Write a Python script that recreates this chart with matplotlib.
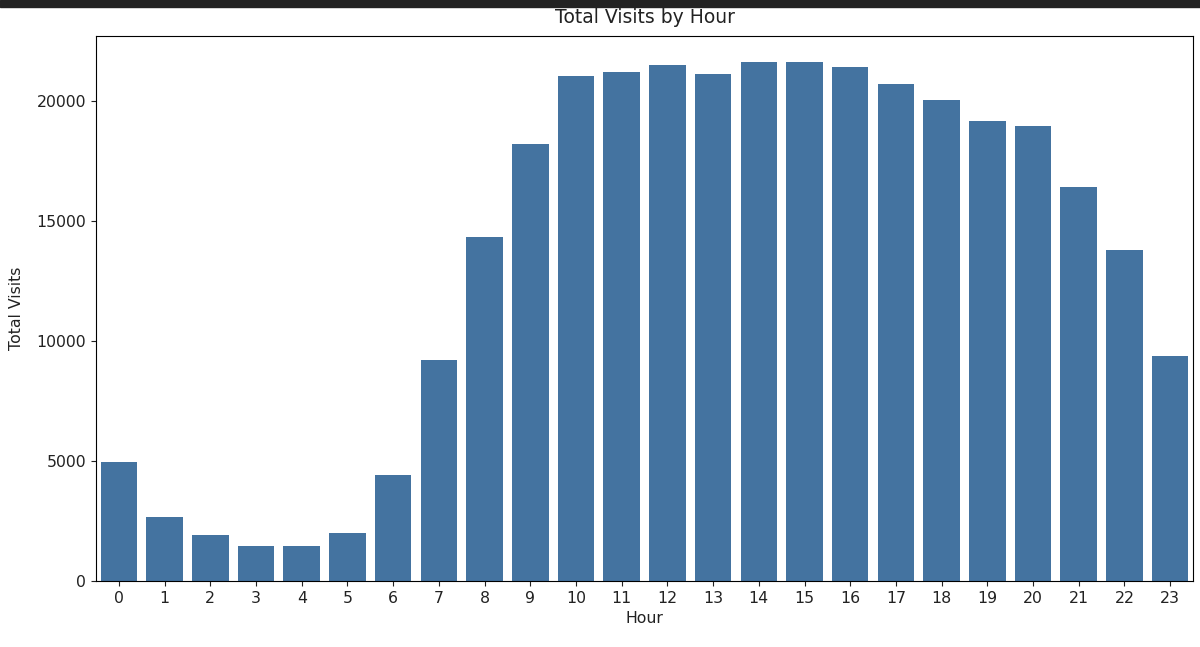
import matplotlib
matplotlib.use('Agg')
import matplotlib.pyplot as plt
import seaborn as sns
import pandas as pd

# hourly visit totals
hours = list(range(24))
total_visits = [4980, 2670, 1930, 1440, 1440, 2020, 4440, 9220, 14330, 18210,
                21040, 21230, 21500, 21150, 21640, 21640, 21440, 20710, 20040,
                19190, 18980, 16440, 13780, 9360]

df = pd.DataFrame({'Hour': hours, 'Total Visits': total_visits})

plt.rcParams['font.size'] = 11.3
plt.rcParams['text.color'] = '#222222'
plt.rcParams['xtick.color'] = '#222222'
plt.rcParams['ytick.color'] = '#222222'
plt.rcParams['axes.labelcolor'] = '#222222'

fig = plt.figure(figsize=(12, 6.47), dpi=100)
ax = fig.add_axes([0.08, 0.102, 0.9142, 0.8424])
sns.barplot(data=df, x='Hour', y='Total Visits', ax=ax, color='#4473a0', saturation=1)
ax.set_title('Total Visits by Hour', fontsize=13.5, pad=9)
ax.set_xlabel('Hour')
ax.set_ylabel('Total Visits', labelpad=9)

# dark strip along the top edge of the screenshot
fig.patches.append(plt.Rectangle((0, 0.989), 1, 0.011, transform=fig.transFigure,
                                 color='#222222', zorder=10))

fig.savefig('out.png', dpi=100)
